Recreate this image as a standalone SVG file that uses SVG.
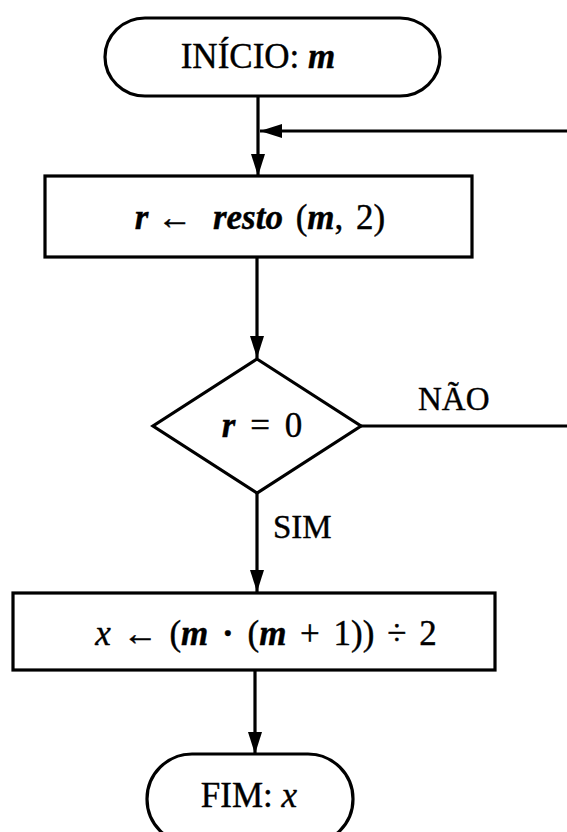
<svg xmlns="http://www.w3.org/2000/svg" width="567" height="832" viewBox="0 0 567 832">
<defs>
<style>
.s{fill:none;stroke:#000;stroke-width:3.2;stroke-linejoin:miter}
.l{fill:none;stroke:#000;stroke-width:3.2}
text{font-family:"Liberation Serif","DejaVu Serif",serif;font-size:35px;fill:#000;stroke:#000;stroke-width:0.4}
.lab{font-size:33px}
.v{font-style:italic;font-weight:bold}
.i{font-style:italic}
</style>
<marker id="ah" markerUnits="userSpaceOnUse" markerWidth="24" markerHeight="14" refX="22" refY="7" orient="auto">
<path d="M0,0 L22,7 L0,14 Z" fill="#000"/>
</marker>
</defs>
<rect width="567" height="832" fill="#fff"/>
<g id="connectors">
<path class="l" d="M258,96 V176" marker-end="url(#ah)"/>
<path class="l" d="M567,131 H260" marker-end="url(#ah)"/>
<path class="l" d="M257,257 V358" marker-end="url(#ah)"/>
<path class="l" d="M361,426 H567"/>
<path class="l" d="M257,493 V592" marker-end="url(#ah)"/>
<path class="l" d="M255,670 V754" marker-end="url(#ah)"/>
<text class="lab" x="418" y="410">NÃO</text>
<text class="lab" x="273" y="538">SIM</text>
</g>
<g id="start">
<rect class="s" x="105" y="18" width="335" height="78" rx="40" ry="39"/>
<text x="258" y="68" text-anchor="middle">INÍCIO: <tspan class="v">m</tspan></text>
</g>
<g id="resto">
<rect class="s" x="45" y="176" width="427" height="81"/>
<text x="260" y="229" text-anchor="middle"><tspan class="v">r</tspan> ← <tspan class="v" dx="12">resto</tspan> <tspan dx="4">(</tspan><tspan class="v">m</tspan>, <tspan dx="4">2)</tspan></text>
</g>
<g id="decision">
<path class="s" d="M257,359 L361,426 L257,493 L153,426 Z"/>
<text x="262" y="437" text-anchor="middle"><tspan class="v">r</tspan> <tspan dx="6">=</tspan> <tspan dx="6">0</tspan></text>
</g>
<g id="calc">
<rect class="s" x="13" y="593" width="482" height="77"/>
<text x="266" y="645" text-anchor="middle"><tspan class="i">x</tspan> <tspan dx="3">←</tspan> <tspan dx="3">(</tspan><tspan class="v">m</tspan> <tspan dx="5" font-weight="bold">·</tspan> <tspan dx="5">(</tspan><tspan class="v">m</tspan> <tspan dx="5">+</tspan> <tspan dx="5">1))</tspan> <tspan dx="4">÷</tspan> <tspan dx="4">2</tspan></text>
</g>
<g id="end">
<rect class="s" x="147" y="754" width="206" height="90" rx="45" ry="45"/>
<text x="249" y="807" text-anchor="middle">FIM: <tspan class="i">x</tspan></text>
</g>
</svg>
